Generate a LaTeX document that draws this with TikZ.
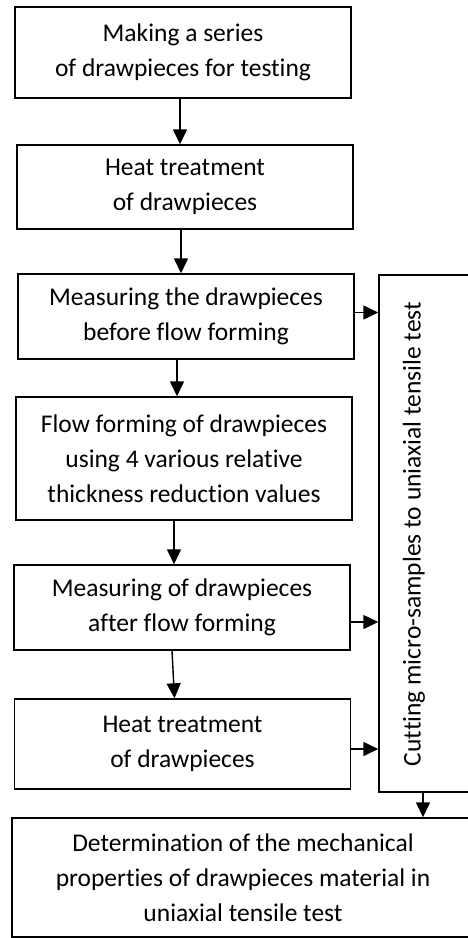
\documentclass[tikz,border=0pt]{standalone}
\usepackage{fontspec}
\setmainfont[Ligatures=NoCommon]{Carlito}
\usetikzlibrary{arrows.meta}

\begin{document}
\begin{tikzpicture}[x=1pt, y=-1pt, line width=1.4pt,
  every node/.style={font=\fontsize{25.5}{35}\selectfont},
  box/.style={draw, rectangle, align=center, minimum width=336pt, inner sep=0pt},
  arr/.style={-{Triangle[length=15pt,width=14pt]}}]
  \useasboundingbox (0,0) rectangle (468,938);
  \clip (0,0) rectangle (468,938);
  % main column
  \node [box, minimum height=91pt] (b1) at (183,52.5) {Making a series\\of drawpieces for testing};
  \node [box, minimum height=84pt] (b2) at (185,187) {Heat treatment\\of drawpieces};
  \node [box, minimum height=85pt] (b3) at (186,316.5) {Measuring the drawpieces\\before flow forming};
  \node [box, minimum height=123pt] (b4) at (184,458.5) {Flow forming of drawpieces\\using 4 various relative\\thickness reduction values};
  \node [box, minimum height=85pt] (b5) at (182,607.5) {Measuring of drawpieces\\after flow forming};
  \node [box, minimum height=90pt] (b6) at (182.5,744) {Heat treatment\\of drawpieces};
  % side column and result
  \node [box, minimum width=92pt, minimum height=517pt] (cut) at (425,533.5) {};
  \node [rotate=90] (cutlabel) at (414,534) {Cutting micro-samples to uniaxial tensile test};
  \node [box, minimum width=462pt, minimum height=119pt] (det) at (243,877.5) {Determination of the mechanical\\properties of drawpieces material in\\uniaxial tensile test};
  \draw [arr] ([xshift=-3pt]b1.south) -- ([xshift=-5pt]b2.north);
  \draw [arr] ([xshift=-4pt]b2.south) -- ([xshift=-5pt]b3.north);
  \draw [arr] ([xshift=-9pt]b3.south) -- ([xshift=-7pt]b4.north);
  \draw [arr] ([xshift=-10pt]b4.south) -- ([xshift=-8pt]b5.north);
  \draw [arr] ([xshift=-10pt]b5.south) -- ([xshift=-8pt]b6.north);
  \coordinate (c3) at ([yshift=4pt]b3.east);
  \coordinate (c5) at ([yshift=-14.5pt]b5.east);
  \coordinate (c6) at ([yshift=-5pt]b6.east);
  \draw [arr] (c3) -- (c3 -| cut.west);
  \draw [arr] (c5) -- (c5 -| cut.west);
  \draw [arr] (c6) -- (c6 -| cut.west);
  \draw [arr] ([xshift=-2pt]cut.south) -- ([xshift=-2pt]cut.south |- det.north);
\end{tikzpicture}
\end{document}
